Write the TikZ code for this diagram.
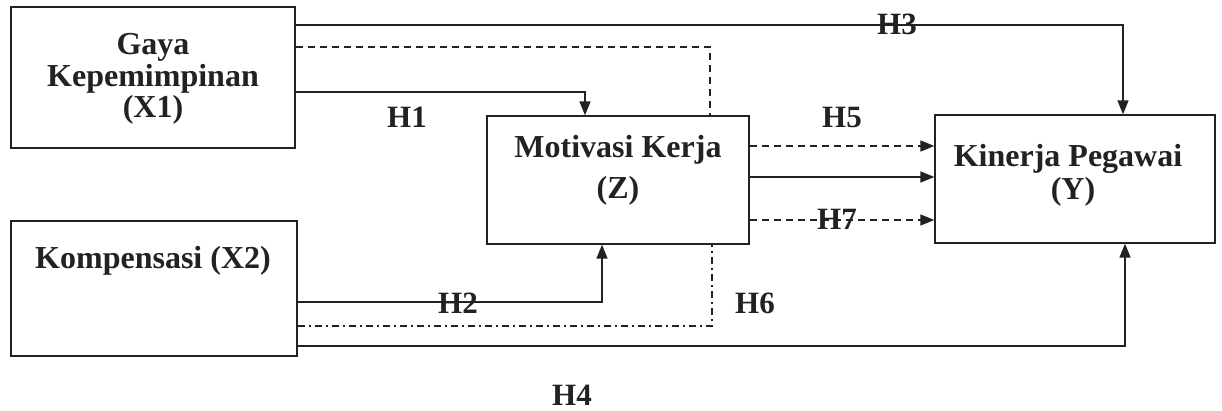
\documentclass[tikz,border=0pt]{standalone}
\usepackage{fontspec}
\setmainfont{Liberation Serif}
\usetikzlibrary{arrows.meta,calc}
\definecolor{ink}{HTML}{222222}
\tikzset{
  box/.style={draw=ink, line width=1.3pt, inner sep=0pt, minimum width=#1},
  txt/.style={anchor=base, inner sep=0pt, text=ink, font=\fontsize{32}{32}\selectfont\bfseries},
  hl/.style={anchor=base, inner sep=0pt, text=ink, font=\fontsize{31}{31}\selectfont\bfseries},
  conn/.style={draw=ink, line width=1.4pt},
  arr/.style={conn, -{Triangle[length=14pt,width=11pt]}},
  dsh/.style={dash pattern=on 7pt off 5pt},
  dshdot/.style={dash pattern=on 7pt off 4pt on 2pt off 4pt},
}
\begin{document}
\begin{tikzpicture}[x=1pt,y=-1pt]
\useasboundingbox[fill=white] (0,0) rectangle (1222,411);
% boxes
\node[box=284pt, minimum height=141pt] (x1) at (153,77.5) {};
\node[box=286pt, minimum height=135pt] (x2) at (154,288.5) {};
\node[box=262pt, minimum height=128pt] (z) at (618,180) {};
\node[box=280pt, minimum height=128pt] (y) at (1075,179) {};
% box texts
\node[txt] (x1a) at (153,55) {Gaya};
\node[txt] (x1b) at (153,87) {Kepemimpinan};
\node[txt] (x1c) at (153,118) {(X1)};
\node[txt] (x2a) at (153,269) {Kompensasi (X2)};
\node[txt] (za) at (618,158) {Motivasi Kerja};
\node[txt] (zb) at (618,199) {(Z)};
\node[txt] (ya) at (1068,167) {Kinerja Pegawai};
\node[txt] (yb) at (1073,200) {(Y)};
% bend coordinates
\coordinate (c3) at (1123,25);
\coordinate (cd) at (710,47);
\coordinate (c1) at (585,92);
\coordinate (c5) at (0,146);
\coordinate (cm) at (0,177);
\coordinate (c7) at (0,220);
\coordinate (c2) at (602,302);
\coordinate (c6) at (712,326);
\coordinate (c4) at (1125,346);
% connectors
\draw[arr] (x1.east |- c3) -- (c3) -- (c3 |- y.north);
\draw[conn, dsh] (x1.east |- cd) -- (cd) -- (cd |- z.north);
\draw[arr] (x1.east |- c1) -- (c1) -- (c1 |- z.north);
\draw[arr, dsh] (z.east |- c5) -- (y.west |- c5);
\draw[arr] (z.east |- cm) -- (y.west |- cm);
\draw[arr, dsh] (z.east |- c7) -- (y.west |- c7);
\draw[arr] (x2.east |- c2) -- (c2) -- (c2 |- z.south);
\draw[conn, dshdot] (x2.east |- c6) -- (c6) -- (c6 |- z.south);
\draw[arr] (x2.east |- c4) -- (c4) -- (c4 |- y.south);
% labels
\node[hl] (h1) at (407,128) {H1};
\node[hl] (h3) at (897,35) {H3};
\node[hl] (h5) at (842,128) {H5};
\node[hl] (h7) at (837,230) {H7};
\node[hl] (h2) at (458,313) {H2};
\node[hl] (h6) at (755,313) {H6};
\node[hl] (h4) at (572,405) {H4};
\end{tikzpicture}
\end{document}
